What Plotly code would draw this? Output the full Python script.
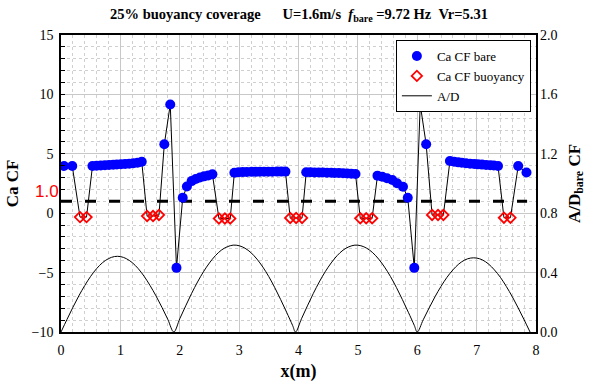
import plotly.graph_objects as go

# ---- data ----
x_bare = [0.05, 0.19,
          0.53, 0.60, 0.67, 0.74, 0.81, 0.88, 0.94, 1.01, 1.08, 1.15, 1.22, 1.29, 1.36,
          1.74, 1.84, 1.945,
          2.05, 2.12, 2.20, 2.27, 2.34, 2.41, 2.48, 2.55,
          2.92, 2.99, 3.06, 3.13, 3.21, 3.28, 3.35, 3.42, 3.49, 3.56, 3.64, 3.71, 3.78,
          4.13, 4.20, 4.27, 4.34, 4.41, 4.48, 4.55, 4.61, 4.68, 4.75, 4.82, 4.89, 4.96,
          5.33, 5.41, 5.49, 5.58, 5.66, 5.76, 5.84,
          5.95, 6.05, 6.15,
          6.55, 6.62, 6.69, 6.75, 6.82, 6.89, 6.96, 7.02, 7.09, 7.16, 7.23, 7.29, 7.36,
          7.70, 7.84]
ca_bare = [3.97, 3.97,
           3.97, 4.00, 4.02, 4.04, 4.06, 4.08, 4.10, 4.12, 4.14, 4.17, 4.20, 4.25, 4.33,
           5.80, 9.15, -4.60,
           1.30, 2.25, 2.70, 2.88, 3.00, 3.10, 3.18, 3.27,
           3.41, 3.44, 3.46, 3.47, 3.48, 3.48, 3.49, 3.49, 3.49, 3.49, 3.50, 3.50, 3.50,
           3.44, 3.44, 3.43, 3.43, 3.42, 3.41, 3.40, 3.39, 3.38, 3.37, 3.35, 3.33, 3.30,
           3.16, 3.07, 2.94, 2.79, 2.52, 2.23, 1.30,
           -4.60, 9.15, 5.80,
           4.39, 4.33, 4.28, 4.24, 4.20, 4.17, 4.14, 4.11, 4.09, 4.06, 4.04, 4.01, 3.98,
           3.97, 3.42]

x_buoy = [0.32, 0.43,
          1.45, 1.55, 1.65,
          2.66, 2.76, 2.85,
          3.86, 3.96, 4.06,
          5.04, 5.14, 5.24,
          6.25, 6.35, 6.44,
          7.46, 7.57]
ca_buoy = [-0.33, -0.33,
           -0.24, -0.24, -0.15,
           -0.45, -0.45, -0.45,
           -0.40, -0.40, -0.40,
           -0.43, -0.43, -0.43,
           -0.15, -0.15, -0.15,
           -0.38, -0.38]

x_ad = [0.0, 0.1, 0.2, 0.3, 0.4, 0.5, 0.6, 0.7, 0.8, 0.9, 1.0, 1.1, 1.2, 1.3, 1.4, 1.5, 1.6, 1.7, 1.8, 1.9,
        2.0, 2.1, 2.2, 2.3, 2.4, 2.5, 2.6, 2.7, 2.8, 2.9, 3.0, 3.1, 3.2, 3.3, 3.4, 3.5, 3.6, 3.7, 3.8, 3.9, 3.95,
        4.05, 4.15, 4.25, 4.35, 4.45, 4.55, 4.65, 4.75, 4.85, 4.95, 5.05, 5.15, 5.25, 5.35, 5.45, 5.55, 5.65,
        5.75, 5.85, 5.95, 6.0,
        6.1, 6.2, 6.3, 6.4, 6.5, 6.6, 6.7, 6.8, 6.9, 7.0, 7.1, 7.2, 7.3, 7.4, 7.5, 7.6, 7.7, 7.8, 7.9]
ad = [0.0, 0.084, 0.166, 0.243, 0.313, 0.375, 0.427, 0.467, 0.494, 0.508, 0.508, 0.494, 0.467, 0.427,
      0.375, 0.313, 0.243, 0.166, 0.084, 0.0,
      0.089, 0.176, 0.260, 0.337, 0.406, 0.465, 0.514, 0.551, 0.574, 0.585, 0.581, 0.564, 0.534, 0.491,
      0.437, 0.373, 0.299, 0.218, 0.133, 0.045, 0.0,
      0.089, 0.176, 0.260, 0.337, 0.406, 0.465, 0.514, 0.551, 0.574, 0.585, 0.581, 0.564, 0.534, 0.491,
      0.437, 0.373, 0.299, 0.218, 0.133, 0.045, 0.0,
      0.082, 0.162, 0.238, 0.307, 0.368, 0.418, 0.458, 0.485, 0.498, 0.498, 0.485, 0.458, 0.418, 0.368,
      0.307, 0.238, 0.162, 0.082, 0.0]

ref_x = [0.0, 7.85]
ref_y = [1.0, 1.0]
ref_label = "1.0"

x_ticks = [0, 1, 2, 3, 4, 5, 6, 7, 8]
y_ticks = [-10, -5, 0, 5, 10, 15]
y2_ticks = [0.0, 0.4, 0.8, 1.2, 1.6, 2.0]

title_text = ("<b>25% buoyancy coverage\u00a0\u00a0\u00a0\u00a0\u00a0\u00a0U=1.6m/s\u00a0\u00a0"
              "<i>f</i><sub>bare</sub>\u00a0=9.72 Hz\u00a0\u00a0Vr=5.31</b>")

# combined line through all Ca points in x order
pairs = sorted(zip(x_bare + x_buoy, ca_bare + ca_buoy))
x_all = [p[0] for p in pairs]
ca_all = [p[1] for p in pairs]

SERIF = "Liberation Serif, Times New Roman, Times, serif"

fig = go.Figure()
fig.add_trace(go.Scatter(x=x_all, y=ca_all, mode="lines",
                         line=dict(color="black", width=1), showlegend=False, hoverinfo="skip"))
fig.add_trace(go.Scatter(x=ref_x, y=ref_y, mode="lines",
                         line=dict(color="black", width=3, dash="11px,13px"), showlegend=False))
fig.add_trace(go.Scatter(x=x_bare, y=ca_bare, mode="markers", name="Ca CF bare",
                         marker=dict(symbol="circle", size=10, color="#0000ff")))
fig.add_trace(go.Scatter(x=x_buoy, y=ca_buoy, mode="markers", name="Ca CF buoyancy",
                         marker=dict(symbol="diamond-open", size=8, color="#ff0000",
                                     line=dict(width=1.8, color="#ff0000"))))
fig.add_trace(go.Scatter(x=x_ad, y=ad, mode="lines", name="A/D", yaxis="y2",
                         line=dict(color="black", width=1, shape="spline")))

fig.add_annotation(x=-14.5 / 475, y=1.8, xref="paper", yref="y", text=ref_label, showarrow=False,
                   xanchor="center", yanchor="middle",
                   font=dict(family="Liberation Sans, Arial, sans-serif", size=17, color="#ff0000"))

fig.update_layout(
    width=598, height=383,
    margin=dict(l=61, r=62, t=35, b=51, autoexpand=False),
    paper_bgcolor="white", plot_bgcolor="white",
    font=dict(family=SERIF, size=14, color="black"),
    title=dict(text=title_text, x=0.5, xanchor="center", y=1 - 14 / 383, yanchor="middle",
               font=dict(family=SERIF, size=14.5)),
    legend=dict(x=0.705, y=0.983, xanchor="left", yanchor="top",
                bordercolor="black", borderwidth=1, bgcolor="white",
                font=dict(family=SERIF, size=13), tracegroupgap=0, itemwidth=30),
    xaxis=dict(range=[0, 8], tickvals=x_ticks, showgrid=True, gridcolor="#c8c8c8", gridwidth=1,
               showline=True, linecolor="black", linewidth=1.5, mirror=True, automargin=False,
               ticks="", zeroline=False, ticklabelstandoff=4,
               minor=dict(dtick=0.2, showgrid=True, gridcolor="#cfcfcf", griddash="dot", gridwidth=1),
               title=dict(text="<b>x(m)</b>", font=dict(family=SERIF, size=18), standoff=8),
               tickfont=dict(family=SERIF, size=14)),
    yaxis=dict(range=[-10, 15], tickvals=y_ticks, showgrid=True, gridcolor="#c8c8c8", gridwidth=1,
               showline=True, linecolor="black", linewidth=1.5, mirror=True, automargin=False,
               ticks="inside", ticklen=4, tickcolor="black", zeroline=False, ticklabelstandoff=3,
               minor=dict(dtick=1, showgrid=True, gridcolor="#cfcfcf", griddash="dot", gridwidth=1,
                          ticks="inside", ticklen=4, tickcolor="black"),
               title=dict(text="<b>Ca CF</b>", font=dict(family=SERIF, size=17), standoff=9),
               tickfont=dict(family=SERIF, size=14)),
    yaxis2=dict(range=[0, 2], tickvals=y2_ticks, tickformat=".1f", overlaying="y", side="right",
                showgrid=False, zeroline=False, showline=False, ticks="", ticklabelstandoff=3,
                automargin=False,
                title=dict(text="<b>A/D<sub>bare</sub> CF</b>", font=dict(family=SERIF, size=17),
                           standoff=11),
                tickfont=dict(family=SERIF, size=14)),
)

fig.write_html("out.html", config={"displayModeBar": False},
               post_script="document.body.style.margin='0';document.body.style.padding='0';")
